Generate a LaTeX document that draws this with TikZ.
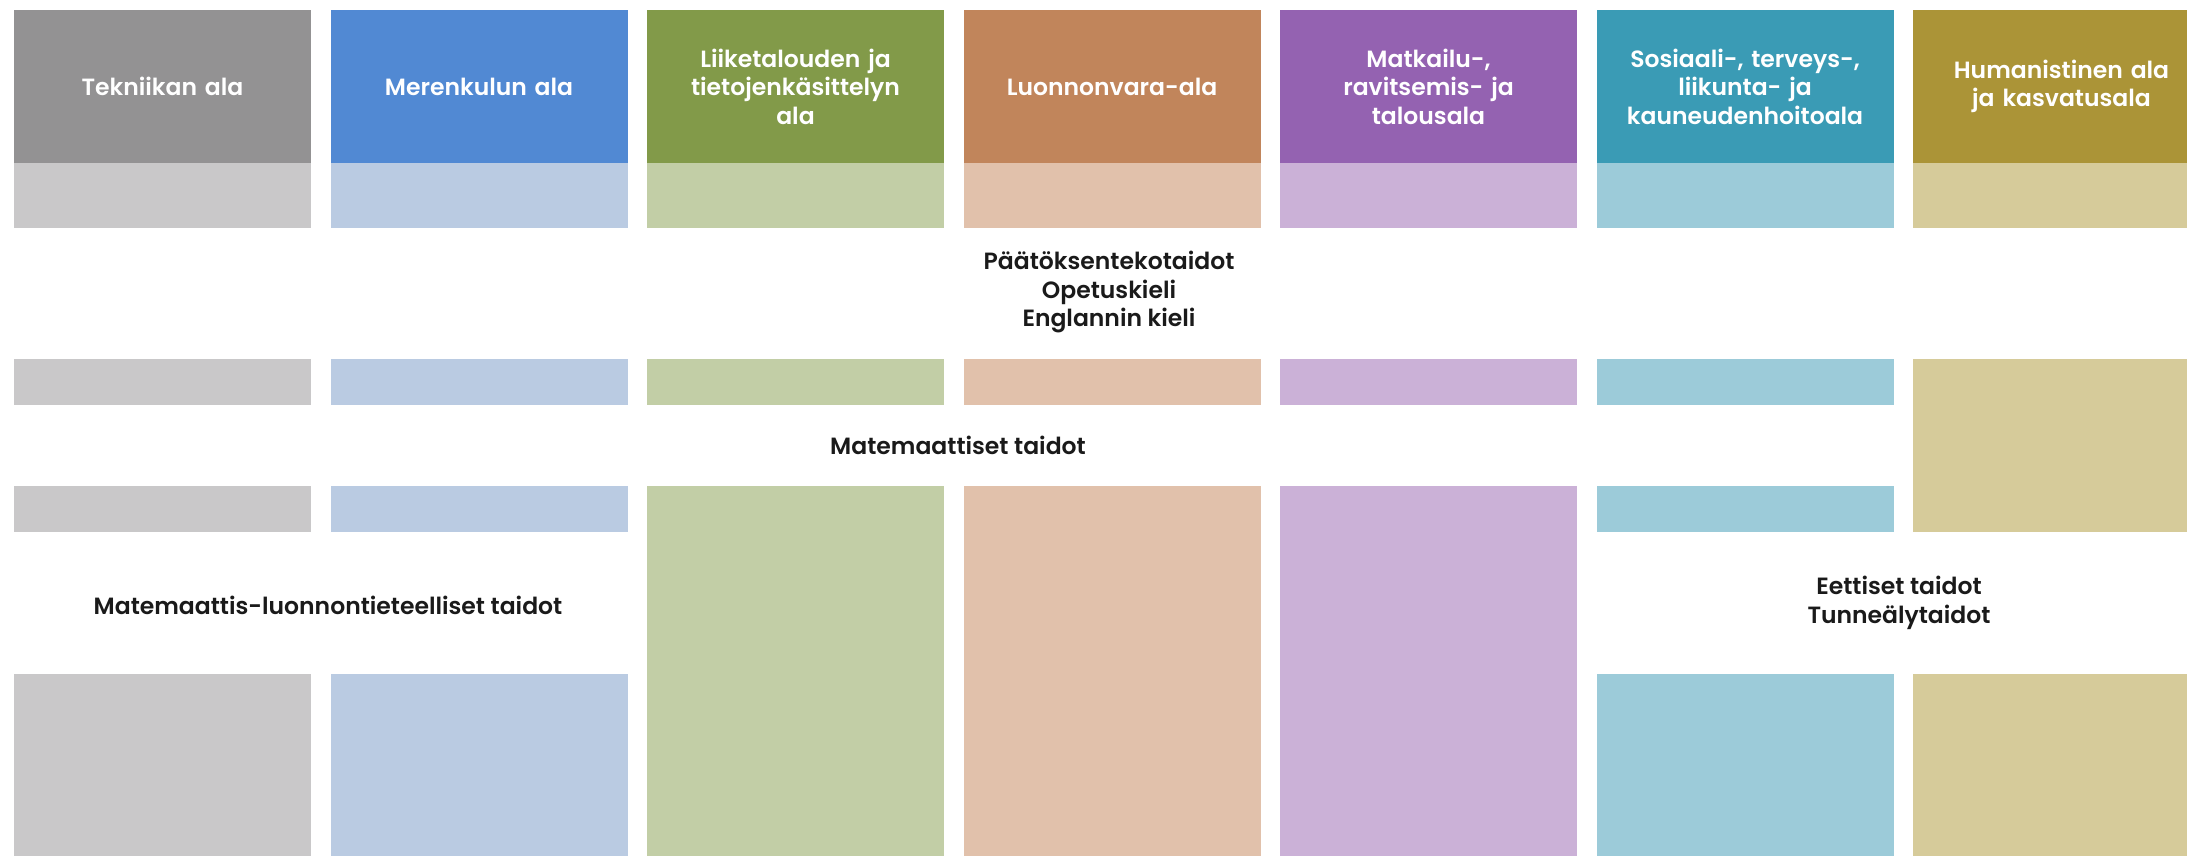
\documentclass[tikz,border=0pt]{standalone}
\usepackage{fontspec}
\setmainfont{Poppins}
\newfontfamily\popsemi{Poppins SemiBold}
\usetikzlibrary{positioning}
% column colours: dark header, light blocks
\definecolor{dark1}{HTML}{939293}\definecolor{lite1}{HTML}{C9C8C9}
\definecolor{dark2}{HTML}{5189D3}\definecolor{lite2}{HTML}{BACBE2}
\definecolor{dark3}{HTML}{829A49}\definecolor{lite3}{HTML}{C2CEA6}
\definecolor{dark4}{HTML}{C1855B}\definecolor{lite4}{HTML}{E1C1AB}
\definecolor{dark5}{HTML}{9462B1}\definecolor{lite5}{HTML}{CBB1D7}
\definecolor{dark6}{HTML}{3A9BB5}\definecolor{lite6}{HTML}{9CCBD9}
\definecolor{dark7}{HTML}{AB9437}\definecolor{lite7}{HTML}{D6CB9A}
\definecolor{ink}{HTML}{1A1A1A}

\begin{document}
\begin{tikzpicture}[x=1pt,y=-1pt,
 block/.style={anchor=north west,inner sep=0pt,outer sep=0pt,minimum width=297pt},
 head/.style={block,minimum height=153pt,text=white,align=center,text width=295pt,
   font=\popsemi\fontsize{23.5}{28.5}\selectfont},
 lite/.style={block,minimum height=#1},
 skill/.style={align=center,text=ink,inner sep=0pt,font=\popsemi\fontsize{23.5}{28.5}\selectfont}]
 \fill[white] (0,0) rectangle (2187,856);
 \clip (0,0) rectangle (2187,856);
 % header row
 \foreach \i/\txt in {1/{Tekniikan ala},2/{Merenkulun ala},
   3/{Liiketalouden ja\\tietojenkäsittelyn\\ala},4/{Luonnonvara-ala},
   5/{Matkailu-,\\ravitsemis- ja\\talousala},
   6/{Sosiaali-, terveys-,\\liikunta- ja\\kauneudenhoitoala},
   7/{Humanistinen ala\\ja kasvatusala}}
 {\pgfmathsetmacro\xl{14+(\i-1)*316.5}
  \node[head,fill=dark\i] (hd\i) at (\xl,10) {\txt};
  \node[lite=64.5pt,fill=lite\i] (lt\i) at (\xl,163) {};}
 % bands
 \foreach \i in {1,...,6}
 {\pgfmathsetmacro\xl{14+(\i-1)*316.5}
  \node[lite=46pt,fill=lite\i] (ba\i) at (\xl,359) {};}
 \node[lite=173pt,fill=lite7] (ba7) at (14+6*316.5,359) {};
 \foreach \i in {1,2,6}
 {\pgfmathsetmacro\xl{14+(\i-1)*316.5}
  \node[lite=46pt,fill=lite\i] (bb\i) at (\xl,486) {};}
 \foreach \i in {3,4,5}
 {\pgfmathsetmacro\xl{14+(\i-1)*316.5}
  \node[lite=370pt,fill=lite\i] (bb\i) at (\xl,486) {};}
 \foreach \i in {1,2,6,7}
 {\pgfmathsetmacro\xl{14+(\i-1)*316.5}
  \node[lite=182pt,fill=lite\i] (bt\i) at (\xl,674) {};}
 % skills
 \node[skill] (paatos) at (1109,292) {Päätöksentekotaidot\\Opetuskieli\\Englannin kieli};
 \node[skill] (matem) at (958,445) {Matemaattiset taidot};
 \node[skill] (luonn) at (328,605) {Matemaattis-luonnontieteelliset taidot};
 \node[skill] (eetti) at (1899,603) {Eettiset taidot\\Tunneälytaidot};
\end{tikzpicture}
\end{document}
